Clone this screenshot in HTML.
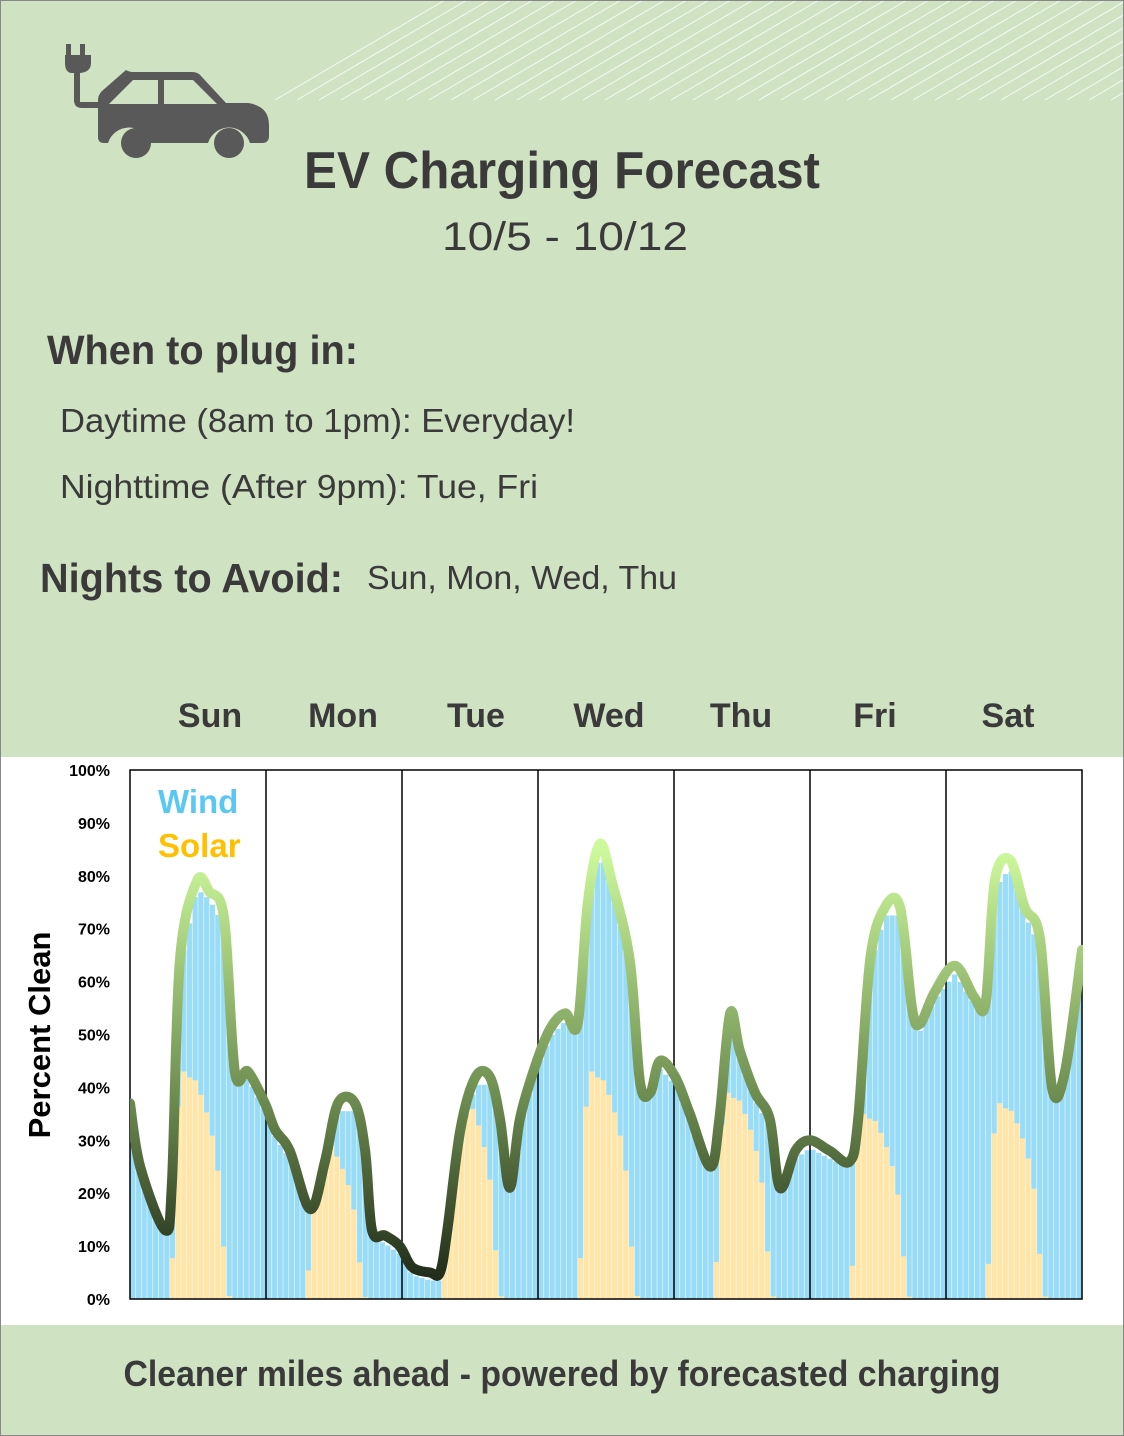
<!DOCTYPE html>
<html><head><meta charset="utf-8"><style>
html,body{margin:0;padding:0;background:#fff}
svg{display:block}
text{font-family:"Liberation Sans",sans-serif}
</style></head><body>
<svg id="s" width="1124" height="1436" viewBox="0 0 1124 1436" xmlns="http://www.w3.org/2000/svg">
<defs>
<linearGradient id="lg" gradientUnits="userSpaceOnUse" x1="0" y1="1290" x2="0" y2="850">
<stop offset="0" stop-color="#1c2616"/>
<stop offset="0.45" stop-color="#6f8f52"/>
<stop offset="1" stop-color="#cdf99c"/>
</linearGradient>
<clipPath id="cp"><rect x="130" y="760" width="953" height="539"/></clipPath>
</defs>
<rect x="0" y="0" width="1124" height="1436" fill="#cfe3c3"/>
<rect x="0" y="757" width="1124" height="568" fill="#fff"/>
<g id="diag" stroke="#fff" stroke-width="1" opacity="0.8"></g>
<!-- car icon -->
<g fill="#595959">
<rect x="66" y="44" width="5" height="12"/><rect x="80" y="44" width="5" height="12"/>
<path d="M65 55 H91 V63 Q91 72 80 73 H71 Q65 72 65 63Z"/>
<rect x="74" y="70" width="6" height="32"/>
<path d="M74 100 Q74 108 82 108 H100 V102 H80 V100Z"/>
<path d="M98 100 Q98 95 102 91 L126 70 Q129 72 135 72 H192 Q198 72 201 76 L226 103 H248 Q269 106 269 125 V136 Q269 143 262 143 H250 A22 22 0 0 0 208 143 H150 A22 22 0 0 0 108 143 H104 Q98 143 98 137Z"/>
<circle cx="136" cy="143" r="15"/><circle cx="229" cy="143" r="15"/>
</g>
<path d="M109 104 L133 80 H158 V104Z M164 80 H193 L217 104 H164Z" fill="#cfe3c3"/>
<g fill="#3a3a3a">
<text x="562" y="188" font-size="52" font-weight="bold" text-anchor="middle" textLength="516" lengthAdjust="spacingAndGlyphs">EV Charging Forecast</text>
<text x="565" y="250" font-size="40" text-anchor="middle" textLength="246" lengthAdjust="spacingAndGlyphs">10/5  -  10/12</text>
<text x="47" y="364" font-size="41" font-weight="bold" textLength="311" lengthAdjust="spacingAndGlyphs">When to plug in:</text>
<text x="60" y="432" font-size="33" textLength="515" lengthAdjust="spacingAndGlyphs">Daytime (8am to 1pm): Everyday!</text>
<text x="60" y="498" font-size="33" textLength="478" lengthAdjust="spacingAndGlyphs">Nighttime  (After 9pm): Tue, Fri</text>
<text x="40" y="592" font-size="41" font-weight="bold" textLength="303" lengthAdjust="spacingAndGlyphs">Nights to Avoid:</text>
<text x="367" y="589" font-size="33" textLength="310" lengthAdjust="spacingAndGlyphs">Sun, Mon, Wed, Thu</text>
<g font-size="34" font-weight="bold" text-anchor="middle">
<text x="210" y="727">Sun</text><text x="343" y="727">Mon</text><text x="476" y="727">Tue</text><text x="609" y="727">Wed</text><text x="741" y="727">Thu</text><text x="875" y="727">Fri</text><text x="1008" y="727">Sat</text>
</g>
<text x="562" y="1386" font-size="36" font-weight="bold" text-anchor="middle" textLength="877" lengthAdjust="spacingAndGlyphs">Cleaner miles ahead - powered by forecasted charging</text>
</g>
<g id="bars" clip-path="url(#cp)"></g>
<g id="grid"></g>
<path id="line" fill="none" stroke="url(#lg)" stroke-width="10" stroke-linejoin="round" stroke-linecap="round" clip-path="url(#cp)"/>
<g id="ylab" font-size="16" font-weight="bold" text-anchor="end" fill="#000"></g>
<text transform="translate(50,1035) rotate(-90)" font-size="31" font-weight="bold" text-anchor="middle" fill="#000">Percent Clean</text>
<text x="158" y="813" font-size="33" font-weight="bold" fill="#5ac8f2">Wind</text>
<text x="158" y="857" font-size="33" font-weight="bold" fill="#ffc000">Solar</text>
<rect x="0.5" y="0.5" width="1123" height="1435" fill="none" stroke="#888"/>
</svg>
<script>
var NS="http://www.w3.org/2000/svg";
function el(t,a,p){var e=document.createElementNS(NS,t);for(var k in a)e.setAttribute(k,a[k]);document.getElementById(p).appendChild(e);return e;}
// diagonal lines
for(var i=0;i<40;i++){var x0=275+i*22;el("line",{x1:x0,y1:100,x2:x0+170,y2:0},"diag");}
var X0=130,W=952/168,Y0=1299,H=5.29;
function X(h){return X0+h*W}function Y(p){return Y0-p*H}
var pts=[[0,37],[1.8,25],[6.2,13],[7.4,22],[8.8,64],[11.8,79],[14,77],[16.6,72],[18.5,43],[20.8,43],[23.8,37],[25.6,32],[28.2,28],[31.8,17],[34.4,26],[36.7,37],[39.7,37],[41.5,28],[42.7,13],[45,12],[47.6,10],[49.8,6],[53,5],[54.7,5],[56,13],[58.3,32],[61,42],[63.5,42],[65.3,34],[67,21],[68.8,34],[71.5,44],[74.1,51],[76.8,54],[79,52],[80.8,75],[82.9,86],[85,79],[88.2,64],[90,41],[91.8,39],[93.5,45],[96.2,42],[98.8,35],[102.4,25],[104,34],[105.9,54],[107.6,47],[110.3,39],[112.9,34],[114.7,21],[117.4,28],[120,30],[123.5,28],[127,26],[128.5,34],[130.6,64],[133.2,74],[135.9,74],[138,55],[139.4,52],[142,58],[145.6,63],[149,57],[151,56],[152.6,79],[155.3,83],[157.9,74],[160.6,68],[162.7,40],[165,43],[168,66]];
function interp(h){for(var i=0;i<pts.length-1;i++){if(h<=pts[i+1][0]){var a=pts[i],b=pts[i+1],t=(h-a[0])/(b[0]-a[0]);return a[1]+t*(b[1]-a[1]);}}return pts[pts.length-1][1];}
var shape=[7,33,39,38,37.5,35,32,28,22,9,0.5].map(function(v){return v/39});
var peaks=[43,30,40,43,39,35,37];
for(var h=0;h<168;h++){
 var tot=interp(h+0.5)-1.5;if(tot<0)tot=0;
 var d=Math.floor(h/24),hr=h%24,sol=0;
 if(hr>=7&&hr<18)sol=peaks[d]*shape[hr-7];
 if(sol>tot)sol=tot;
 var x=X(h);
 el("rect",{x:x,y:Y(tot),width:W,height:tot*H,fill:"#99dcf7"},"bars");
 if(sol>0)el("rect",{x:x,y:Y(sol),width:W,height:sol*H,fill:"#ffe6a8"},"bars");
 el("line",{x1:x,y1:Y(tot),x2:x,y2:Y0,stroke:"#fff","stroke-width":0.8,opacity:0.6},"bars");
}
// catmull-rom path
var P=pts.map(function(p){return[X(p[0]),Y(p[1])]});
var d="M"+P[0][0]+" "+P[0][1];
for(var i=0;i<P.length-1;i++){var p0=P[i-1]||P[i],p1=P[i],p2=P[i+1],p3=P[i+2]||p2;
 d+=" C"+(p1[0]+(p2[0]-p0[0])/6)+" "+(p1[1]+(p2[1]-p0[1])/6)+" "+(p2[0]-(p3[0]-p1[0])/6)+" "+(p2[1]-(p3[1]-p1[1])/6)+" "+p2[0]+" "+p2[1];}
document.getElementById("line").setAttribute("d",d);
// frame & day separators
el("rect",{x:130,y:770,width:952,height:529,fill:"none",stroke:"#000","stroke-width":1.5},"grid");
for(var k=1;k<7;k++){var xx=X(k*24);el("line",{x1:xx,y1:770,x2:xx,y2:1299,stroke:"#000","stroke-width":1.5},"grid");}
for(var p=0;p<=100;p+=10){var t=el("text",{x:110,y:Y(p)+6},"ylab");t.textContent=p+"%";}
</script>
</body></html>
